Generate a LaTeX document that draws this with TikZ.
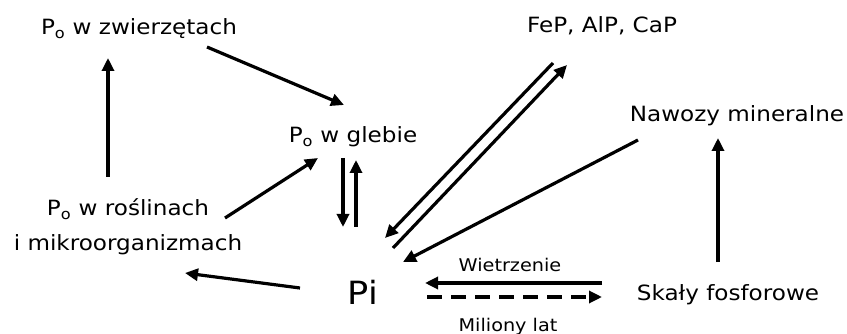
\documentclass[tikz,border=0pt]{standalone}
\usepackage{fontspec}
\setmainfont[FakeStretch=1.1]{DejaVu Sans}
\usetikzlibrary{arrows.meta}
\begin{document}
\begin{tikzpicture}[x=1pt,y=-1pt,
  lbl/.style={inner sep=0pt,anchor=base,font=\fontsize{21}{25}\selectfont},
  small/.style={inner sep=0pt,anchor=base,font=\fontsize{17.5}{21}\selectfont},
  arr/.style={line width=3.2pt,-{Triangle[length=13pt,width=12pt]}},
  darr/.style={arr,dash pattern=on 15pt off 9pt}]
\useasboundingbox (0,0) rectangle (847,334);
% nodes
\node[lbl] (zw) at (139,35) {P\textsubscript{o} w zwierzętach};
\node[lbl] (fep) at (602,33) {FeP, AlP, CaP};
\node[lbl] (gleb) at (353,143) {P\textsubscript{o} w glebie};
\node[lbl] (naw) at (737,122) {Nawozy mineralne};
\node[lbl] (ros1) at (128,216) {P\textsubscript{o} w roślinach};
\node[lbl] (ros2) at (128,251) {i mikroorganizmach};
\node[inner sep=0pt,anchor=base,font=\fontsize{32}{36}\selectfont] (pi) at (363,305) {Pi};
\node[lbl] (skal) at (728,300) {Skały fosforowe};
\node[small] (wiet) at (510,272) {Wietrzenie};
\node[small] (mil) at (508,331) {Miliony lat};
% connector ends
\coordinate (rosT) at (108,177);
\coordinate (zwB) at (108,58);
\coordinate (zwR) at (207,47);
\coordinate (glebTL) at (344,105);
\coordinate (rosR) at (225,218);
\coordinate (glebBL) at (318,158);
\coordinate (glebB1) at (343,158);
\coordinate (piT1) at (343,227);
\coordinate (piT2) at (356,227);
\coordinate (glebB2) at (356,160);
\coordinate (piL) at (300,288);
\coordinate (rosB) at (185,273);
\coordinate (fepB1) at (553,63);
\coordinate (piR1) at (385,238);
\coordinate (piR2) at (393,248);
\coordinate (fepB2) at (567,65);
\coordinate (nawL) at (638,140);
\coordinate (piR3) at (403,262);
\coordinate (skalT) at (718,262);
\coordinate (nawB) at (718,138);
\coordinate (skalL1) at (602,283);
\coordinate (piE1) at (425,283);
\coordinate (piE2) at (427,297);
\coordinate (skalL2) at (602,297);
% connectors
\draw[arr] (rosT) -- (zwB);
\draw[arr] (zwR) -- (glebTL);
\draw[arr] (rosR) -- (glebBL);
\draw[arr] (glebB1) -- (piT1);
\draw[arr] (piT2) -- (glebB2);
\draw[arr] (piL) -- (rosB);
\draw[arr] (fepB1) -- (piR1);
\draw[arr] (piR2) -- (fepB2);
\draw[arr] (nawL) -- (piR3);
\draw[arr] (skalT) -- (nawB);
\draw[arr] (skalL1) -- (piE1);
\draw[darr] (piE2) -- (skalL2);
\end{tikzpicture}
\end{document}
